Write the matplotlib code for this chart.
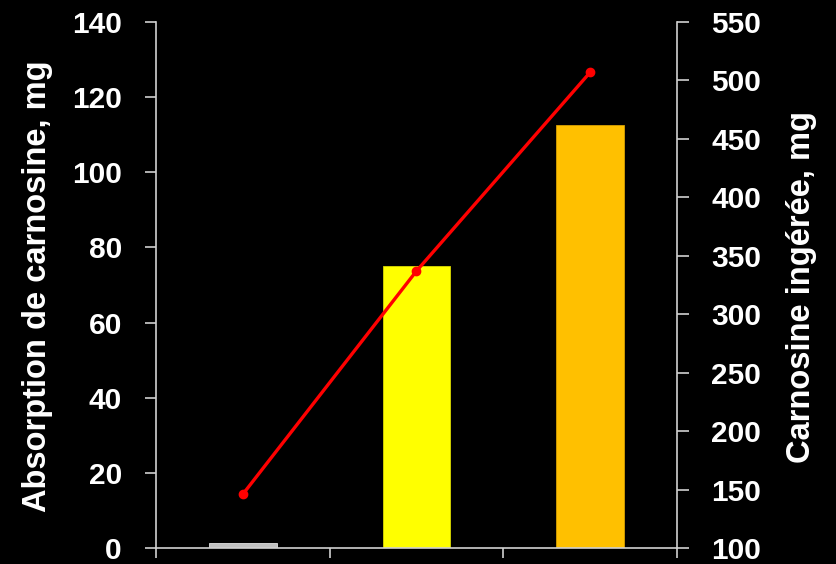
import matplotlib
matplotlib.use("Agg")
import matplotlib.pyplot as plt

# Absorbed carnosine (left axis, bars) and ingested carnosine (right axis, line)
groups = ["Dose 1", "Dose 2", "Dose 3"]
absorption_mg = [1.3, 75, 112.5]
ingested_mg = [146, 337, 507]
bar_colors = ["#C0C0C0", "#FFFF00", "#FFC000"]

left_ticks = [0, 20, 40, 60, 80, 100, 120, 140]
right_ticks = [100, 150, 200, 250, 300, 350, 400, 450, 500, 550]

plt.rcParams["font.family"] = ["Liberation Sans", "DejaVu Sans"]
plt.rcParams["font.weight"] = "bold"

W, H = 837, 564
fig = plt.figure(figsize=(W / 100, H / 100), dpi=100, facecolor="black")
ax = fig.add_axes([156 / W, 16 / H, 521 / W, 526 / H], facecolor="black")

spine_color = "#D0D0D0"
xpos = [i + 0.5 for i in range(len(groups))]
ax.bar(xpos, absorption_mg, width=0.39, color=bar_colors,
       edgecolor=["#E0E0E0", "#D8D800", "#D8A000"], linewidth=0.6, zorder=2)

ax.set_xlim(0, 3)
ax.set_ylim(0, 140)
ax.set_yticks(left_ticks)
ax.set_xticks([0, 1, 2, 3])
ax.set_xticklabels([])
ax.tick_params(axis="x", direction="out", length=7.5, width=1.2, color=spine_color)
ax.tick_params(axis="y", direction="out", length=8, width=1.2, color=spine_color,
               labelcolor="white", labelsize=21.5, pad=16.5)
for lbl in ax.get_yticklabels():
    lbl.set_fontweight("bold")

for side in ["top", "right"]:
    ax.spines[side].set_visible(False)
for side in ["left", "bottom"]:
    ax.spines[side].set_color(spine_color)
    ax.spines[side].set_linewidth(1.2)

ax2 = ax.twinx()
ax2.plot(xpos, ingested_mg, color="#FF0000", linewidth=2.4, marker="o",
         markersize=6, zorder=3)
ax2.set_ylim(100, 550)
ax2.set_yticks(right_ticks)
ax2.tick_params(axis="y", direction="out", length=8.5, width=1.2, color=spine_color,
                labelcolor="white", labelsize=21.5, pad=16)
for lbl in ax2.get_yticklabels():
    lbl.set_fontweight("bold")
for side in ["top", "left", "bottom"]:
    ax2.spines[side].set_visible(False)
ax2.spines["right"].set_color(spine_color)
ax2.spines["right"].set_linewidth(1.2)

# Axis titles
fig.text(38 / W, 1 - 286 / H, "Absorption de carnosine, mg", rotation=90,
         ha="center", va="center", color="white", fontsize=23.5, fontweight="bold")
fig.text(802 / W, 1 - 287 / H, "Carnosine ingérée, mg", rotation=90,
         ha="center", va="center", color="white", fontsize=23.5, fontweight="bold")

fig.savefig("out.png", dpi=100, facecolor="black")
